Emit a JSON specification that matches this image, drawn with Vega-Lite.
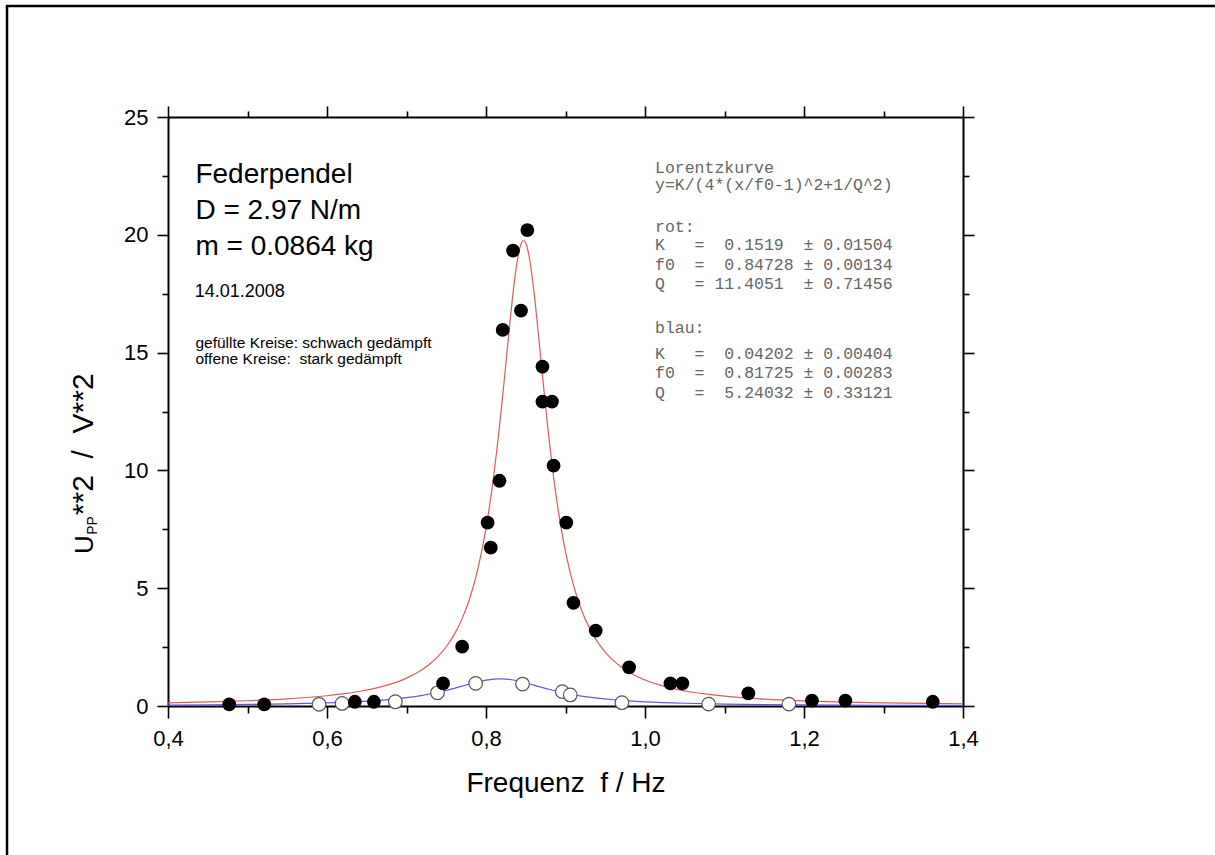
{
  "$schema": "https://vega.github.io/schema/vega-lite/v6.json",
  "width": 795,
  "height": 589,
  "autosize": "none",
  "padding": {"left": 168, "top": 117, "right": 252, "bottom": 149},
  "background": "white",
  "config": {"view": {"stroke": null}, "font": "Liberation Sans"},
  "datasets": {
    "filled": [
      {"f": 0.477, "u": 0.07}, {"f": 0.521, "u": 0.07}, {"f": 0.635, "u": 0.18}, {"f": 0.659, "u": 0.18},
      {"f": 0.746, "u": 0.96}, {"f": 0.770, "u": 2.52}, {"f": 0.802, "u": 7.78}, {"f": 0.806, "u": 6.72},
      {"f": 0.817, "u": 9.56}, {"f": 0.821, "u": 15.96}, {"f": 0.834, "u": 19.33}, {"f": 0.844, "u": 16.78},
      {"f": 0.852, "u": 20.2}, {"f": 0.871, "u": 14.4}, {"f": 0.871, "u": 12.92}, {"f": 0.883, "u": 12.92},
      {"f": 0.885, "u": 10.2}, {"f": 0.901, "u": 7.78}, {"f": 0.910, "u": 4.38}, {"f": 0.938, "u": 3.2},
      {"f": 0.980, "u": 1.64}, {"f": 1.032, "u": 0.96}, {"f": 1.047, "u": 0.96}, {"f": 1.130, "u": 0.54},
      {"f": 1.210, "u": 0.23}, {"f": 1.252, "u": 0.23}, {"f": 1.362, "u": 0.18}
    ],
    "open": [
      {"f": 0.590, "u": 0.07}, {"f": 0.619, "u": 0.11}, {"f": 0.686, "u": 0.18}, {"f": 0.739, "u": 0.56},
      {"f": 0.787, "u": 0.96}, {"f": 0.846, "u": 0.93}, {"f": 0.896, "u": 0.61}, {"f": 0.906, "u": 0.47},
      {"f": 0.971, "u": 0.14}, {"f": 1.080, "u": 0.08}, {"f": 1.181, "u": 0.08}
    ],
    "fitRed": [
      {"f": 0.40, "u": 0.1353}, {"f": 0.45, "u": 0.1712}, {"f": 0.50, "u": 0.2235}, {"f": 0.55, "u": 0.3037},
      {"f": 0.60, "u": 0.4360}, {"f": 0.62, "u": 0.5140}, {"f": 0.64, "u": 0.6148}, {"f": 0.66, "u": 0.7478},
      {"f": 0.68, "u": 0.9285}, {"f": 0.70, "u": 1.1816}, {"f": 0.72, "u": 1.5507}, {"f": 0.73, "u": 1.8013},
      {"f": 0.74, "u": 2.1152}, {"f": 0.75, "u": 2.5142}, {"f": 0.76, "u": 3.0299}, {"f": 0.77, "u": 3.7081},
      {"f": 0.78, "u": 4.6156}, {"f": 0.79, "u": 5.8493}, {"f": 0.80, "u": 7.5411}, {"f": 0.805, "u": 8.6072},
      {"f": 0.81, "u": 9.8432}, {"f": 0.815, "u": 11.2569}, {"f": 0.82, "u": 12.8355}, {"f": 0.825, "u": 14.5308},
      {"f": 0.83, "u": 16.2434}, {"f": 0.835, "u": 17.8119}, {"f": 0.84, "u": 19.0277}, {"f": 0.845, "u": 19.6843},
      {"f": 0.8473, "u": 19.7586}, {"f": 0.85, "u": 19.6533}, {"f": 0.855, "u": 18.9404}, {"f": 0.86, "u": 17.6846},
      {"f": 0.865, "u": 16.0955}, {"f": 0.87, "u": 14.379}, {"f": 0.875, "u": 12.6909}, {"f": 0.88, "u": 11.1256},
      {"f": 0.885, "u": 9.7275}, {"f": 0.89, "u": 8.5066}, {"f": 0.895, "u": 7.4548}, {"f": 0.90, "u": 6.5546},
      {"f": 0.91, "u": 5.1306}, {"f": 0.92, "u": 4.0885}, {"f": 0.93, "u": 3.3156}, {"f": 0.94, "u": 2.7325},
      {"f": 0.95, "u": 2.2849}, {"f": 0.96, "u": 1.9354}, {"f": 0.97, "u": 1.6583}, {"f": 0.98, "u": 1.4352},
      {"f": 1.00, "u": 1.1036}, {"f": 1.02, "u": 0.8734}, {"f": 1.04, "u": 0.7077}, {"f": 1.06, "u": 0.5846},
      {"f": 1.08, "u": 0.4909}, {"f": 1.10, "u": 0.4178}, {"f": 1.15, "u": 0.2931}, {"f": 1.20, "u": 0.2167},
      {"f": 1.25, "u": 0.1667}, {"f": 1.30, "u": 0.1321}, {"f": 1.35, "u": 0.1073}, {"f": 1.40, "u": 0.0888}
    ],
    "fitBlue": [
      {"f": 0.40, "u": 0.0389}, {"f": 0.45, "u": 0.0498}, {"f": 0.50, "u": 0.0657}, {"f": 0.55, "u": 0.0905},
      {"f": 0.60, "u": 0.1317}, {"f": 0.62, "u": 0.1560}, {"f": 0.64, "u": 0.1871}, {"f": 0.66, "u": 0.2277},
      {"f": 0.68, "u": 0.2816}, {"f": 0.70, "u": 0.3539}, {"f": 0.72, "u": 0.4516}, {"f": 0.74, "u": 0.5824},
      {"f": 0.76, "u": 0.7498}, {"f": 0.77, "u": 0.8440}, {"f": 0.78, "u": 0.9395}, {"f": 0.79, "u": 1.0283},
      {"f": 0.80, "u": 1.1001}, {"f": 0.81, "u": 1.1440}, {"f": 0.8173, "u": 1.1539}, {"f": 0.82, "u": 1.1525},
      {"f": 0.83, "u": 1.1239}, {"f": 0.84, "u": 1.0634}, {"f": 0.85, "u": 0.9809}, {"f": 0.86, "u": 0.8873},
      {"f": 0.87, "u": 0.7916}, {"f": 0.88, "u": 0.7004}, {"f": 0.90, "u": 0.5427}, {"f": 0.92, "u": 0.4217},
      {"f": 0.94, "u": 0.3318}, {"f": 0.96, "u": 0.2652}, {"f": 0.98, "u": 0.2154}, {"f": 1.00, "u": 0.1777},
      {"f": 1.05, "u": 0.1165}, {"f": 1.10, "u": 0.0816}, {"f": 1.15, "u": 0.0601}, {"f": 1.20, "u": 0.0460},
      {"f": 1.25, "u": 0.0363}, {"f": 1.30, "u": 0.0293}, {"f": 1.35, "u": 0.0242}, {"f": 1.40, "u": 0.0203}
    ],
    "one": [{}]
  },
  "resolve": {"axis": {"x": "independent", "y": "independent"}},
  "layer": [
    {
      "data": {"name": "one"},
      "mark": {"type": "rule", "color": "black", "strokeWidth": 2.5},
      "encoding": {
        "x": {"datum": 0.1975, "scale": {"domain": [0.4, 1.4], "nice": false, "zero": false}, "axis": null},
        "y": {"datum": 29.71, "scale": {"domain": [0, 25], "nice": false, "zero": false}, "axis": null},
        "y2": {"datum": -8}
      }
    },
    {
      "data": {"name": "one"},
      "mark": {"type": "rule", "color": "black", "strokeWidth": 2.5},
      "encoding": {
        "x": {"datum": 0.196, "scale": {"domain": [0.4, 1.4], "nice": false, "zero": false}, "axis": null},
        "x2": {"datum": 1.8},
        "y": {"datum": 29.71, "scale": {"domain": [0, 25], "nice": false, "zero": false}, "axis": null}
      }
    },
    {
      "data": {"name": "fitRed"},
      "mark": {"type": "line", "color": "#e05a5a", "strokeWidth": 1.2, "interpolate": "monotone"},
      "encoding": {
        "x": {"field": "f", "type": "quantitative", "scale": {"domain": [0.4, 1.4], "nice": false, "zero": false},
          "axis": {"orient": "bottom", "values": [0.4, 0.5, 0.6, 0.7, 0.8, 0.9, 1.0, 1.1, 1.2, 1.3, 1.4],
            "labelExpr": "round(datum.value*10)%2==0 ? replace(format(datum.value,'.1f'),'.',',') : ''",
            "tickSize": {"condition": {"test": "round(datum.value*10)%2==0", "value": 12}, "value": 7},
            "tickColor": "black", "tickWidth": 1.6, "domainColor": "black", "domainWidth": 2,
            "labelFontSize": 22, "labelColor": "black", "labelPadding": 10, "labelFlush": false, "labelOverlap": false,
            "grid": false, "title": "Frequenz\u00a0 f / Hz", "titleFontSize": 28, "titleFontWeight": "normal",
            "titleColor": "black", "titleBaseline": "alphabetic", "titleY": 85}},
        "y": {"field": "u", "type": "quantitative", "scale": {"domain": [0, 25], "nice": false, "zero": false},
          "axis": {"orient": "left", "values": [0, 2.5, 5, 7.5, 10, 12.5, 15, 17.5, 20, 22.5, 25],
            "labelExpr": "datum.value%5==0 ? datum.label : ''",
            "tickSize": {"condition": {"test": "datum.value%5==0", "value": 11}, "value": 6},
            "tickColor": "black", "tickWidth": 1.6, "domainColor": "black", "domainWidth": 2,
            "labelFontSize": 22, "labelColor": "black", "labelPadding": 9, "labelFlush": false, "labelOverlap": false,
            "grid": false, "title": null}}
      }
    },
    {
      "data": {"name": "fitBlue"},
      "mark": {"type": "line", "color": "#5a5ae0", "strokeWidth": 1.2, "interpolate": "monotone"},
      "encoding": {
        "x": {"field": "f", "type": "quantitative", "scale": {"domain": [0.4, 1.4], "nice": false, "zero": false},
          "axis": {"orient": "top", "values": [0.4, 0.5, 0.6, 0.7, 0.8, 0.9, 1.0, 1.1, 1.2, 1.3, 1.4], "labels": false,
            "tickSize": {"condition": {"test": "round(datum.value*10)%2==0", "value": 11}, "value": 6},
            "tickColor": "black", "tickWidth": 1.6, "domainColor": "black", "domainWidth": 2, "grid": false, "title": null}},
        "y": {"field": "u", "type": "quantitative", "scale": {"domain": [0, 25], "nice": false, "zero": false},
          "axis": {"orient": "right", "values": [0, 2.5, 5, 7.5, 10, 12.5, 15, 17.5, 20, 22.5, 25], "labels": false,
            "tickSize": {"condition": {"test": "datum.value%5==0", "value": 11}, "value": 6},
            "tickColor": "black", "tickWidth": 1.6, "domainColor": "black", "domainWidth": 2, "grid": false, "title": null}}
      }
    },
    {
      "data": {"name": "open"},
      "mark": {"type": "point", "shape": "circle", "filled": true, "fill": "white", "stroke": "#555555", "strokeWidth": 1.2, "size": 185, "opacity": 1},
      "encoding": {
        "x": {"field": "f", "type": "quantitative", "scale": {"domain": [0.4, 1.4], "nice": false, "zero": false}, "axis": null},
        "y": {"field": "u", "type": "quantitative", "scale": {"domain": [0, 25], "nice": false, "zero": false}, "axis": null}
      }
    },
    {
      "data": {"name": "filled"},
      "mark": {"type": "point", "shape": "circle", "filled": true, "color": "black", "size": 190, "opacity": 1},
      "encoding": {
        "x": {"field": "f", "type": "quantitative", "scale": {"domain": [0.4, 1.4], "nice": false, "zero": false}, "axis": null},
        "y": {"field": "u", "type": "quantitative", "scale": {"domain": [0, 25], "nice": false, "zero": false}, "axis": null}
      }
    },
    {
      "data": {"name": "one"},
      "mark": {"type": "text", "align": "left", "baseline": "alphabetic", "fontSize": 28, "lineHeight": 36, "color": "black"},
      "encoding": {
        "x": {"datum": 0.4345, "scale": {"domain": [0.4, 1.4], "nice": false, "zero": false}, "axis": null},
        "y": {"datum": 22.19, "scale": {"domain": [0, 25], "nice": false, "zero": false}, "axis": null},
        "text": {"value": ["Federpendel", "D = 2.97 N/m", "m = 0.0864 kg"]}
      }
    },
    {
      "data": {"name": "one"},
      "mark": {"type": "text", "align": "left", "baseline": "alphabetic", "fontSize": 18, "color": "black"},
      "encoding": {
        "x": {"datum": 0.4335, "scale": {"domain": [0.4, 1.4], "nice": false, "zero": false}, "axis": null},
        "y": {"datum": 17.37, "scale": {"domain": [0, 25], "nice": false, "zero": false}, "axis": null},
        "text": {"value": "14.01.2008"}
      }
    },
    {
      "data": {"name": "one"},
      "mark": {"type": "text", "align": "left", "baseline": "alphabetic", "fontSize": 15.5, "lineHeight": 16.5, "color": "black"},
      "encoding": {
        "x": {"datum": 0.4345, "scale": {"domain": [0.4, 1.4], "nice": false, "zero": false}, "axis": null},
        "y": {"datum": 15.2, "scale": {"domain": [0, 25], "nice": false, "zero": false}, "axis": null},
        "text": {"value": ["gefüllte Kreise: schwach gedämpft", "offene Kreise:\u00a0 stark gedämpft"]}
      }
    },
    {
      "data": {"name": "one"},
      "mark": {"type": "text", "align": "left", "baseline": "alphabetic", "font": "Liberation Mono", "fontSize": 16.5, "lineHeight": 17, "color": "#666666"},
      "encoding": {
        "x": {"datum": 1.0126, "scale": {"domain": [0.4, 1.4], "nice": false, "zero": false}, "axis": null},
        "y": {"datum": 22.62, "scale": {"domain": [0, 25], "nice": false, "zero": false}, "axis": null},
        "text": {"value": ["Lorentzkurve", "y=K/(4*(x/f0-1)^2+1/Q^2)"]}
      }
    },
    {
      "data": {"name": "one"},
      "mark": {"type": "text", "align": "left", "baseline": "alphabetic", "font": "Liberation Mono", "fontSize": 16.5, "color": "#666666"},
      "encoding": {
        "x": {"datum": 1.0126, "scale": {"domain": [0.4, 1.4], "nice": false, "zero": false}, "axis": null},
        "y": {"datum": 20.12, "scale": {"domain": [0, 25], "nice": false, "zero": false}, "axis": null},
        "text": {"value": "rot:"}
      }
    },
    {
      "data": {"name": "one"},
      "mark": {"type": "text", "align": "left", "baseline": "alphabetic", "font": "Liberation Mono", "fontSize": 16.5, "lineHeight": 19.5, "color": "#666666"},
      "encoding": {
        "x": {"datum": 1.0126, "scale": {"domain": [0.4, 1.4], "nice": false, "zero": false}, "axis": null},
        "y": {"datum": 19.35, "scale": {"domain": [0, 25], "nice": false, "zero": false}, "axis": null},
        "text": {"value": ["K\u00a0\u00a0\u00a0=\u00a0\u00a00.1519\u00a0\u00a0±\u00a00.01504", "f0\u00a0\u00a0=\u00a0\u00a00.84728\u00a0±\u00a00.00134", "Q\u00a0\u00a0\u00a0=\u00a011.4051\u00a0\u00a0±\u00a00.71456"]}
      }
    },
    {
      "data": {"name": "one"},
      "mark": {"type": "text", "align": "left", "baseline": "alphabetic", "font": "Liberation Mono", "fontSize": 16.5, "color": "#666666"},
      "encoding": {
        "x": {"datum": 1.0126, "scale": {"domain": [0.4, 1.4], "nice": false, "zero": false}, "axis": null},
        "y": {"datum": 15.83, "scale": {"domain": [0, 25], "nice": false, "zero": false}, "axis": null},
        "text": {"value": "blau:"}
      }
    },
    {
      "data": {"name": "one"},
      "mark": {"type": "text", "align": "left", "baseline": "alphabetic", "font": "Liberation Mono", "fontSize": 16.5, "lineHeight": 19.5, "color": "#666666"},
      "encoding": {
        "x": {"datum": 1.0126, "scale": {"domain": [0.4, 1.4], "nice": false, "zero": false}, "axis": null},
        "y": {"datum": 14.73, "scale": {"domain": [0, 25], "nice": false, "zero": false}, "axis": null},
        "text": {"value": ["K\u00a0\u00a0\u00a0=\u00a0\u00a00.04202\u00a0±\u00a00.00404", "f0\u00a0\u00a0=\u00a0\u00a00.81725\u00a0±\u00a00.00283", "Q\u00a0\u00a0\u00a0=\u00a0\u00a05.24032\u00a0±\u00a00.33121"]}
      }
    },
    {
      "data": {"name": "one"},
      "mark": {"type": "text", "align": "left", "baseline": "alphabetic", "angle": 270, "fontSize": 26, "color": "black"},
      "encoding": {
        "x": {"datum": 0.3057, "scale": {"domain": [0.4, 1.4], "nice": false, "zero": false}, "axis": null},
        "y": {"datum": 6.45, "scale": {"domain": [0, 25], "nice": false, "zero": false}, "axis": null},
        "text": {"value": "U"}
      }
    },
    {
      "data": {"name": "one"},
      "mark": {"type": "text", "align": "left", "baseline": "alphabetic", "angle": 270, "fontSize": 14, "color": "black"},
      "encoding": {
        "x": {"datum": 0.3107, "scale": {"domain": [0.4, 1.4], "nice": false, "zero": false}, "axis": null},
        "y": {"datum": 7.27, "scale": {"domain": [0, 25], "nice": false, "zero": false}, "axis": null},
        "text": {"value": "PP"}
      }
    },
    {
      "data": {"name": "one"},
      "mark": {"type": "text", "align": "left", "baseline": "alphabetic", "angle": 270, "fontSize": 30, "color": "black"},
      "encoding": {
        "x": {"datum": 0.3057, "scale": {"domain": [0.4, 1.4], "nice": false, "zero": false}, "axis": null},
        "y": {"datum": 8.1, "scale": {"domain": [0, 25], "nice": false, "zero": false}, "axis": null},
        "text": {"value": "**2\u00a0 /\u00a0 V**2"}
      }
    }
  ]
}
